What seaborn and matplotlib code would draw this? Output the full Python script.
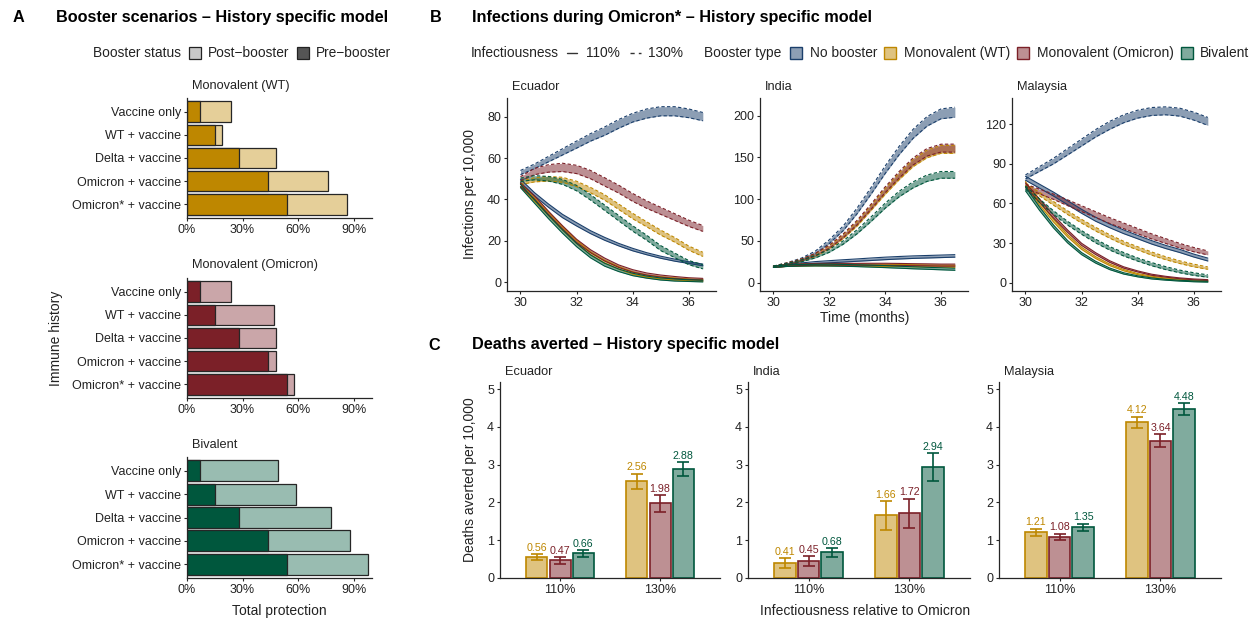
import matplotlib
matplotlib.use("Agg")
import matplotlib.pyplot as plt
from matplotlib.patches import Rectangle
from matplotlib.lines import Line2D
import matplotlib.colors as mcolors
import pandas as pd
import seaborn as sns

# ======================= DATA =======================
# ---- Panel A: protection by immune history ----
history = ["Vaccine only", "WT + vaccine", "Delta + vaccine",
           "Omicron + vaccine", "Omicron* + vaccine"]
pre_booster = [0.07, 0.15, 0.28, 0.44, 0.54]
post_monovalent_wt = [0.24, 0.19, 0.48, 0.76, 0.865]
post_monovalent_omicron = [0.24, 0.47, 0.48, 0.48, 0.58]
post_bivalent = [0.49, 0.59, 0.78, 0.88, 0.98]
pct_ticks = [0, 0.3, 0.6, 0.9]
pct_labels = ["0%", "30%", "60%", "90%"]

# ---- Panel B: infections per 10,000 (ribbon centre and half width) ----
months = [30.0, 30.5, 31.0, 31.5, 32.0, 32.5, 33.0, 33.5, 34.0, 34.5, 35.0, 35.5, 36.0, 36.5]
boosters = ["No booster", "Monovalent (WT)", "Monovalent (Omicron)", "Bivalent"]
infectiousness = ["110%", "130%"]

ecu_nb_110 = [49, 42.5, 37, 32, 28, 24.2, 21, 18.2, 15.8, 13.8, 12.1, 10.7, 9.5, 8.4]
ecu_wt_110 = [47, 40, 33, 26, 19.5, 14, 10, 7, 4.5, 3, 2.2, 1.6, 1.2, 1.0]
ecu_om_110 = [47, 41, 33.5, 26.5, 20, 15, 11, 7.8, 5.5, 4, 3, 2.3, 1.8, 1.5]
ecu_bi_110 = [46.5, 39, 31.5, 24.5, 18, 12.5, 8.5, 5.8, 3.8, 2.5, 1.6, 1.1, 0.8, 0.6]
ecu_nb_130 = [53, 56, 59.5, 63, 66.5, 70, 73, 76.5, 79.5, 81.5, 82.6, 82.6, 81.6, 80]
ecu_wt_130 = [48, 49.5, 50, 49.5, 47.5, 44.5, 41, 36.5, 32, 28, 24, 20.5, 16.5, 13.5]
ecu_om_130 = [50, 53.5, 55, 55.5, 54.5, 52, 48.5, 45, 41, 37.5, 34.5, 31.5, 28.5, 26]
ecu_bi_130 = [49.5, 50.5, 50, 48.5, 45.5, 41, 36, 31, 26, 21.5, 16.5, 13, 9.5, 7.5]
ecu_hw_110 = [0.8, 0.8, 0.8, 0.8, 0.8, 0.7, 0.7, 0.6, 0.6, 0.5, 0.5, 0.5, 0.4, 0.4]
ecu_nb_130_hw = [1.0, 1.1, 1.3, 1.5, 1.7, 1.8, 2.0, 2.1, 2.1, 2.2, 2.2, 2.2, 2.1, 2.0]
ecu_om_130_hw = [1.0, 1.5, 1.8, 2.0, 2.0, 2.0, 2.0, 1.9, 1.9, 1.8, 1.7, 1.6, 1.5, 1.4]
ecu_wb_130_hw = [0.8, 1.0, 1.1, 1.2, 1.3, 1.3, 1.3, 1.3, 1.3, 1.2, 1.2, 1.1, 1.0, 1.0]

ind_nb_110 = [19, 21, 22.5, 24, 25, 26, 27, 28, 29, 29.8, 30.5, 31, 31.5, 32]
ind_wt_110 = [19, 20.5, 21, 21.3, 21.3, 21.3, 21.2, 21, 20.8, 20.6, 20.3, 20, 19.8, 19.6]
ind_om_110 = [19, 20.5, 21.5, 22, 22, 22, 22, 22, 22, 21.8, 21.5, 21.3, 21, 21]
ind_bi_110 = [19, 20.3, 20.8, 21, 21, 20.7, 20.3, 19.8, 19.2, 18.5, 17.8, 17.2, 16.6, 16]
ind_nb_130 = [19, 23, 28, 36, 49, 65, 86, 110, 135, 158, 178, 193, 202, 204]
ind_wt_130 = [19, 22.5, 27, 33, 42, 55, 70.5, 89.5, 109, 127, 143, 154, 159.5, 159.5]
ind_om_130 = [19, 22.5, 27, 33.5, 43, 56, 72, 91, 111, 129, 145, 156, 161, 161]
ind_bi_130 = [19, 22, 26, 31, 38, 48, 61, 76, 92, 106, 117, 125, 129, 129]
ind_hw_110 = [0.8, 0.9, 1.0, 1.0, 1.1, 1.1, 1.1, 1.2, 1.2, 1.2, 1.2, 1.2, 1.2, 1.2]
ind_nb_110_hw = [0.8, 1.0, 1.1, 1.2, 1.3, 1.4, 1.4, 1.5, 1.5, 1.5, 1.5, 1.5, 1.5, 1.5]
ind_nb_130_hw = [0.8, 1.0, 1.3, 1.7, 2.2, 2.8, 3.4, 4.0, 4.5, 5.0, 5.4, 5.7, 5.9, 6.0]
ind_mono_130_hw = [0.8, 1.0, 1.2, 1.5, 1.9, 2.3, 2.7, 3.1, 3.5, 3.9, 4.2, 4.5, 4.7, 4.8]
ind_bi_130_hw = [0.8, 1.0, 1.2, 1.4, 1.7, 2.0, 2.4, 2.7, 3.0, 3.3, 3.6, 3.8, 4.0, 4.0]

mal_nb_110 = [79, 73, 67, 60.5, 54, 48, 43, 38.5, 34.5, 30.5, 27, 24, 20.5, 17.5]
mal_wt_110 = [75, 60, 47, 35.5, 26, 19, 13.5, 9.5, 6.5, 4.5, 3.2, 2.3, 1.6, 1.2]
mal_om_110 = [74, 62, 50, 39, 29, 22, 16, 11.5, 8.5, 6, 4.5, 3.3, 2.5, 2]
mal_bi_110 = [71, 56, 42.5, 31, 22, 15.5, 10.5, 7, 4.8, 3.2, 2.2, 1.5, 1, 0.7]
mal_nb_130 = [80, 86, 92, 99, 106, 113, 119, 124, 127.5, 129.5, 130, 129, 126, 122]
mal_wt_130 = [74, 67, 60, 53, 46.5, 40.5, 35, 30, 26, 22, 18.5, 15.5, 13, 11]
mal_om_130 = [73, 69, 65, 60.5, 56, 51.5, 47, 43, 39, 35, 31.5, 28, 25, 22.5]
mal_bi_130 = [72, 62, 53, 45, 38, 31.5, 26, 21.5, 17.5, 14, 11, 8.5, 6.5, 5]
mal_hw_110 = [1.5, 1.3, 1.1, 0.9, 0.8, 0.7, 0.6, 0.5, 0.4, 0.4, 0.3, 0.3, 0.3, 0.3]
mal_nb_110_hw = [1.5, 1.5, 1.5, 1.5, 1.5, 1.5, 1.4, 1.4, 1.3, 1.3, 1.2, 1.2, 1.1, 1.1]
mal_nb_130_hw = [1.5, 1.8, 2.1, 2.4, 2.6, 2.8, 3.0, 3.0, 3.0, 3.0, 3.0, 3.0, 3.0, 3.0]
mal_om_130_hw = [1.5, 1.8, 2.0, 2.2, 2.2, 2.2, 2.2, 2.1, 2.0, 1.9, 1.8, 1.7, 1.6, 1.5]
mal_wb_130_hw = [1.2, 1.3, 1.4, 1.4, 1.4, 1.4, 1.3, 1.3, 1.2, 1.2, 1.1, 1.0, 1.0, 0.9]

infection_yticks = {"Ecuador": [0, 20, 40, 60, 80], "India": [0, 50, 100, 150, 200],
                    "Malaysia": [0, 30, 60, 90, 120]}
infection_ylims = {"Ecuador": (-4.2, 89), "India": (-10, 221), "Malaysia": (-6.3, 139.7)}

# ---- Panel C: deaths averted per 10,000 ----
countries = ["Ecuador", "India", "Malaysia"]
scenarios = ["110%", "130%"]
vaccines = ["Monovalent (WT)", "Monovalent (Omicron)", "Bivalent"]

ecu_deaths_wt = [0.56, 2.56]; ecu_lo_wt = [0.485, 2.36]; ecu_hi_wt = [0.635, 2.76]
ecu_deaths_om = [0.47, 1.98]; ecu_lo_om = [0.37, 1.76]; ecu_hi_om = [0.55, 2.19]
ecu_deaths_bi = [0.66, 2.88]; ecu_lo_bi = [0.56, 2.69]; ecu_hi_bi = [0.74, 3.07]
ind_deaths_wt = [0.41, 1.66]; ind_lo_wt = [0.27, 1.28]; ind_hi_wt = [0.52, 2.03]
ind_deaths_om = [0.45, 1.72]; ind_lo_om = [0.33, 1.33]; ind_hi_om = [0.57, 2.10]
ind_deaths_bi = [0.68, 2.94]; ind_lo_bi = [0.55, 2.57]; ind_hi_bi = [0.79, 3.30]
mal_deaths_wt = [1.21, 4.12]; mal_lo_wt = [1.12, 3.96]; mal_hi_wt = [1.30, 4.27]
mal_deaths_om = [1.08, 3.64]; mal_lo_om = [1.00, 3.48]; mal_hi_om = [1.17, 3.80]
mal_deaths_bi = [1.35, 4.48]; mal_lo_bi = [1.25, 4.32]; mal_hi_bi = [1.43, 4.63]

# ======================= STYLE =======================
sns.set_theme(style="ticks")
plt.rcParams["font.family"] = ["Liberation Sans", "DejaVu Sans"]
plt.rcParams["axes.facecolor"] = "white"

TXT = "#222222"
COL_NB = "#1B3F6B"
COL_WT = "#BE8700"
COL_OM = "#7B2028"
COL_BI = "#00573D"
booster_colors = {"No booster": COL_NB, "Monovalent (WT)": COL_WT,
                  "Monovalent (Omicron)": COL_OM, "Bivalent": COL_BI}


def blend(c, a):
    r, g, b = mcolors.to_rgb(c)
    return (1 - a + a * r, 1 - a + a * g, 1 - a + a * b)


W, H = 1251, 618
fig = plt.figure(figsize=(W / 100, H / 100), dpi=100)


def add_ax(x0, y0, x1, y1):
    return fig.add_axes([x0 / W, 1 - y1 / H, (x1 - x0) / W, (y1 - y0) / H])


def ftext(x, y, s, **kw):
    kw.setdefault("color", TXT)
    return fig.text(x / W, 1 - y / H, s, **kw)


def style_ax(ax):
    sns.despine(ax=ax)
    for s in ["left", "bottom"]:
        ax.spines[s].set_linewidth(0.9)
        ax.spines[s].set_color("#262626")
    ax.tick_params(length=2.2, width=0.8, color="#262626", labelsize=9,
                   labelcolor=TXT, pad=2)
    ax.grid(False)
    ax.set_xlabel("")
    ax.set_ylabel("")


# ======================= PANEL A =======================
ftext(13, 17.5, "A", fontsize=11.7, fontweight="bold", va="center", color="black")
ftext(56, 17.5, "Booster scenarios \u2013 History specific model", fontsize=11.7,
      fontweight="bold", va="center", color="black")

ftext(92.7, 53.3, "Booster status", fontsize=9.9, va="center")
for x0, fc, lab in [(189, "#C8C8C8", "Post\u2212booster"), (297, "#555555", "Pre\u2212booster")]:
    fig.add_artist(Rectangle((x0 / W, 1 - 59 / H), 12 / W, 11.5 / H, transform=fig.transFigure,
                             facecolor=fc, edgecolor="#222222", lw=0.9))
    ftext(x0 + 19, 53.3, lab, fontsize=9.9, va="center")

panelA = [("Monovalent (WT)", post_monovalent_wt, COL_WT, 98, 218, 86),
          ("Monovalent (Omicron)", post_monovalent_omicron, COL_OM, 278, 398, 265.5),
          ("Bivalent", post_bivalent, COL_BI, 457, 578, 445)]
for strip, post, dark, y0, y1, ys in panelA:
    ax = add_ax(187, y0, 372, y1)
    sns.barplot(x=post, y=history, orient="h", color=blend(dark, 0.4), saturation=1,
                width=0.9, edgecolor="#262626", linewidth=0.9, ax=ax)
    sns.barplot(x=pre_booster, y=history, orient="h", color=dark, saturation=1,
                width=0.9, edgecolor="#262626", linewidth=0.9, ax=ax)
    ax.set_xlim(0, 1.0)
    ax.set_ylim(4.6, -0.6)
    ax.set_xticks(pct_ticks)
    ax.set_xticklabels(pct_labels)
    style_ax(ax)
    ftext(192, ys, strip, fontsize=9.2, va="center")

ftext(56, 338, "Immune history", fontsize=10, rotation=90, ha="center", va="center")
ftext(279.5, 611, "Total protection", fontsize=10, ha="center", va="center")

# ======================= PANEL B =======================
ftext(430, 17.5, "B", fontsize=11.7, fontweight="bold", va="center", color="black")
ftext(471.7, 17.5, "Infections during Omicron* \u2013 History specific model", fontsize=11.7,
      fontweight="bold", va="center", color="black")

ftext(470.7, 53.3, "Infectiousness", fontsize=9.9, va="center")
fig.add_artist(Line2D([566.7 / W, 577 / W], [1 - 53.3 / H] * 2, transform=fig.transFigure,
                      color="#333333", lw=1.0))
ftext(585.7, 53.3, "110%", fontsize=9.9, va="center")
fig.add_artist(Line2D([630 / W, 641 / W], [1 - 53.3 / H] * 2, transform=fig.transFigure,
                      color="#333333", lw=1.0, dashes=(3, 3)))
ftext(647.7, 53.3, "130%", fontsize=9.9, va="center")
ftext(704.3, 53.3, "Booster type", fontsize=9.9, va="center")
for x0, b in [(790, "No booster"), (884.3, "Monovalent (WT)"),
              (1017.3, "Monovalent (Omicron)"), (1180.7, "Bivalent")]:
    c = booster_colors[b]
    fig.add_artist(Rectangle((x0 / W, 1 - 59 / H), 12 / W, 11.5 / H, transform=fig.transFigure,
                             facecolor=blend(c, 0.5), edgecolor=c, lw=1.0))
    ftext(x0 + 19.5, 53.3, b, fontsize=9.9, va="center")

infection_series = {
    "Ecuador": {
        ("No booster", "110%"): (ecu_nb_110, ecu_hw_110),
        ("Monovalent (WT)", "110%"): (ecu_wt_110, ecu_hw_110),
        ("Monovalent (Omicron)", "110%"): (ecu_om_110, ecu_hw_110),
        ("Bivalent", "110%"): (ecu_bi_110, ecu_hw_110),
        ("No booster", "130%"): (ecu_nb_130, ecu_nb_130_hw),
        ("Monovalent (WT)", "130%"): (ecu_wt_130, ecu_wb_130_hw),
        ("Monovalent (Omicron)", "130%"): (ecu_om_130, ecu_om_130_hw),
        ("Bivalent", "130%"): (ecu_bi_130, ecu_wb_130_hw),
    },
    "India": {
        ("No booster", "110%"): (ind_nb_110, ind_nb_110_hw),
        ("Monovalent (WT)", "110%"): (ind_wt_110, ind_hw_110),
        ("Monovalent (Omicron)", "110%"): (ind_om_110, ind_hw_110),
        ("Bivalent", "110%"): (ind_bi_110, ind_hw_110),
        ("No booster", "130%"): (ind_nb_130, ind_nb_130_hw),
        ("Monovalent (WT)", "130%"): (ind_wt_130, ind_mono_130_hw),
        ("Monovalent (Omicron)", "130%"): (ind_om_130, ind_mono_130_hw),
        ("Bivalent", "130%"): (ind_bi_130, ind_bi_130_hw),
    },
    "Malaysia": {
        ("No booster", "110%"): (mal_nb_110, mal_nb_110_hw),
        ("Monovalent (WT)", "110%"): (mal_wt_110, mal_hw_110),
        ("Monovalent (Omicron)", "110%"): (mal_om_110, mal_hw_110),
        ("Bivalent", "110%"): (mal_bi_110, mal_hw_110),
        ("No booster", "130%"): (mal_nb_130, mal_nb_130_hw),
        ("Monovalent (WT)", "130%"): (mal_wt_130, mal_wb_130_hw),
        ("Monovalent (Omicron)", "130%"): (mal_om_130, mal_om_130_hw),
        ("Bivalent", "130%"): (mal_bi_130, mal_wb_130_hw),
    },
}

b_axes = [(507, 716), (760, 968), (1012, 1221)]
for country, (x0, x1) in zip(countries, b_axes):
    ax = add_ax(x0, 98, x1, 291)
    for b in boosters:
        c = booster_colors[b]
        for inf in infectiousness:
            mid, hw = infection_series[country][(b, inf)]
            df = pd.DataFrame({"t": months, "mid": mid, "hw": hw})
            df["lo"] = df["mid"] - df["hw"]
            df["hi"] = df["mid"] + df["hw"]
            ax.fill_between(df["t"], df["lo"], df["hi"], color=c, alpha=0.5, lw=0)
            ls = "-" if inf == "110%" else (0, (3, 2))
            for col in ["lo", "hi"]:
                ax.plot(df["t"], df[col], color=c, lw=0.8, linestyle=ls)
    ax.set_xlim(29.52, 36.97)
    ax.set_ylim(*infection_ylims[country])
    ax.set_xticks([30, 32, 34, 36])
    ax.set_yticks(infection_yticks[country])
    style_ax(ax)
    ftext(x0 + 5, 86.7, country, fontsize=9.2, va="center")

ftext(470, 194, "Infections per 10,000", fontsize=10, rotation=90, ha="center", va="center")
ftext(865, 318, "Time (months)", fontsize=10, ha="center", va="center")

# ======================= PANEL C =======================
ftext(428, 345, "C", fontsize=11.7, fontweight="bold", va="center", color="black")
ftext(471.7, 345, "Deaths averted \u2013 History specific model", fontsize=11.7,
      fontweight="bold", va="center", color="black")

deaths = {
    "Ecuador": [(ecu_deaths_wt, ecu_lo_wt, ecu_hi_wt), (ecu_deaths_om, ecu_lo_om, ecu_hi_om),
                (ecu_deaths_bi, ecu_lo_bi, ecu_hi_bi)],
    "India": [(ind_deaths_wt, ind_lo_wt, ind_hi_wt), (ind_deaths_om, ind_lo_om, ind_hi_om),
              (ind_deaths_bi, ind_lo_bi, ind_hi_bi)],
    "Malaysia": [(mal_deaths_wt, mal_lo_wt, mal_hi_wt), (mal_deaths_om, mal_lo_om, mal_hi_om),
                 (mal_deaths_bi, mal_lo_bi, mal_hi_bi)],
}
c_axes = [(500, 720), (748, 970), (999, 1221)]
for country, (x0, x1) in zip(countries, c_axes):
    ax = add_ax(x0, 382, x1, 578)
    rows = []
    for v, (vals, lo, hi) in zip(vaccines, deaths[country]):
        for s, val in zip(scenarios, vals):
            rows.append({"scenario": s, "vaccine": v, "value": val})
    df = pd.DataFrame(rows)
    sns.barplot(data=df, x="scenario", y="value", hue="vaccine", hue_order=vaccines,
                order=scenarios,
                palette=[blend(booster_colors[v], 0.5) for v in vaccines],
                saturation=1, width=0.7, gap=0.1, errorbar=None, legend=False,
                linewidth=1.2, ax=ax)
    for cont, v, (vals, lo, hi) in zip(ax.containers, vaccines, deaths[country]):
        c = booster_colors[v]
        for bar, val, l, h in zip(cont, vals, lo, hi):
            bar.set_edgecolor(c)
            xc = bar.get_x() + bar.get_width() / 2
            ax.errorbar([xc], [(l + h) / 2], yerr=[[(h - l) / 2], [(h - l) / 2]],
                        color=c, lw=1.2, capsize=4.5, capthick=1.2)
            ax.text(xc, h + 0.04, f"{val:.2f}", color=c, fontsize=7.7,
                    ha="center", va="bottom")
    ax.set_xlim(-0.6, 1.6)
    ax.set_ylim(0, 5.19)
    ax.set_yticks([0, 1, 2, 3, 4, 5])
    style_ax(ax)
    ftext(x0 + 5, 372.3, country, fontsize=9.2, va="center")

ftext(470, 480, "Deaths averted per 10,000", fontsize=10, rotation=90, ha="center", va="center")
ftext(865, 611, "Infectiousness relative to Omicron", fontsize=10, ha="center", va="center")

fig.savefig("out.png", dpi=100)
